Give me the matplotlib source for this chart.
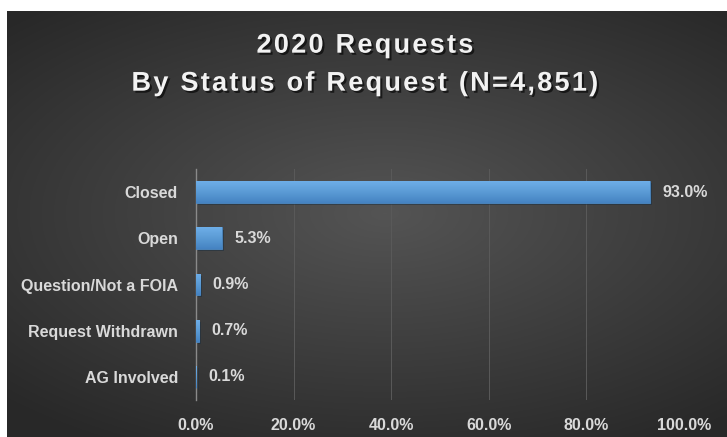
import matplotlib.pyplot as plt
import matplotlib.patheffects as pe
import matplotlib.colors as mcolors
import numpy as np

# ----- datos -----
categorias = ["Closed", "Open", "Question/Not a FOIA", "Request Withdrawn", "AG Involved"]
porcentajes = [93.0, 5.3, 0.9, 0.7, 0.1]
ticks_x = [0, 20, 40, 60, 80, 100]
titulo = ["2020 Requests", "By Status of Request (N=4,851)"]

fuente = ["Liberation Sans", "DejaVu Sans"]
color_texto = "#d9d9d9"
tam = 11.5

fig = plt.figure(figsize=(7.27, 4.37), dpi=100)
fig.patch.set_facecolor("white")

# fondo con degradado radial (borde blanco arriba e izquierda)
fondo = fig.add_axes([7 / 727, 0, 720 / 727, 426 / 437])
yy, xx = np.mgrid[-1:1:300j, -1:1:500j]
r = np.sqrt(((xx - 0.05) * 0.85) ** 2 + ((yy + 0.05) * 1.0) ** 2)
grad = np.clip(1 - r / 1.25, 0, 1)
gris = 0.16 + 0.17 * grad
img = np.dstack([gris, gris, gris])
fondo.imshow(img, aspect="auto", extent=[0, 1, 0, 1])
fondo.axis("off")

ax = fig.add_axes([196 / 727, (437 - 400) / 437, (684 - 196) / 727, (400 - 169) / 437])
ax.patch.set_alpha(0)

y = np.arange(len(categorias))
barras = ax.barh(y, porcentajes, height=0.47, color="#5b9bd5", edgecolor="#4a86c0",
                 linewidth=0.6, zorder=3)
cmap_barra = mcolors.LinearSegmentedColormap.from_list("barra", ["#6eaee8", "#5b9bd5", "#4583c2"])
degr = np.linspace(0, 1, 64).reshape(-1, 1)
for b in barras:
    b.set_path_effects([pe.SimplePatchShadow(offset=(1.5, -1.5), alpha=0.5), pe.Normal()])
    x0, y0 = b.get_x(), b.get_y()
    w, h = b.get_width(), b.get_height()
    im = ax.imshow(degr, cmap=cmap_barra, aspect="auto", extent=[x0, x0 + w, y0 + h, y0],
                   zorder=4, origin="upper")
    im.set_clip_path(b)

for yi, v in zip(y, porcentajes):
    ax.text(v + 2.5, yi, f"{v:.1f}%", va="center", ha="left", color=color_texto,
            fontsize=tam, fontweight="bold", family=fuente)

ax.set_xlim(0, 100)
ax.set_ylim(len(categorias) - 0.5, -0.5)
ax.set_yticks(y)
ax.set_yticklabels(categorias, color=color_texto, fontsize=tam, fontweight="bold", family=fuente)
ax.set_xticks(ticks_x)
ax.set_xticklabels([f"{t:.1f}%" for t in ticks_x], color=color_texto, fontsize=tam,
                   fontweight="bold", family=fuente)
ax.tick_params(axis="y", length=0, pad=13)
ax.tick_params(axis="x", length=0, pad=13)
ax.grid(axis="x", color="#5a5a5a", linewidth=0.7, zorder=0)
for s in ["top", "right", "bottom"]:
    ax.spines[s].set_visible(False)
ax.spines["left"].set_color("#8a8a8a")
ax.spines["left"].set_linewidth(1.0)
ax.set_aspect("auto")

# titulo con algo de espaciado entre letras
texto_titulo = "\n".join("\u200a".join(linea) for linea in titulo)
fig.text(0.502, 0.852, texto_titulo, ha="center", va="center", color="#f2f2f2", fontsize=19.5,
         fontweight="bold", family=fuente, linespacing=1.6,
         path_effects=[pe.withSimplePatchShadow(offset=(1.5, -1.5), shadow_rgbFace="black", alpha=0.6)])

plt.savefig("out.png", dpi=100)
